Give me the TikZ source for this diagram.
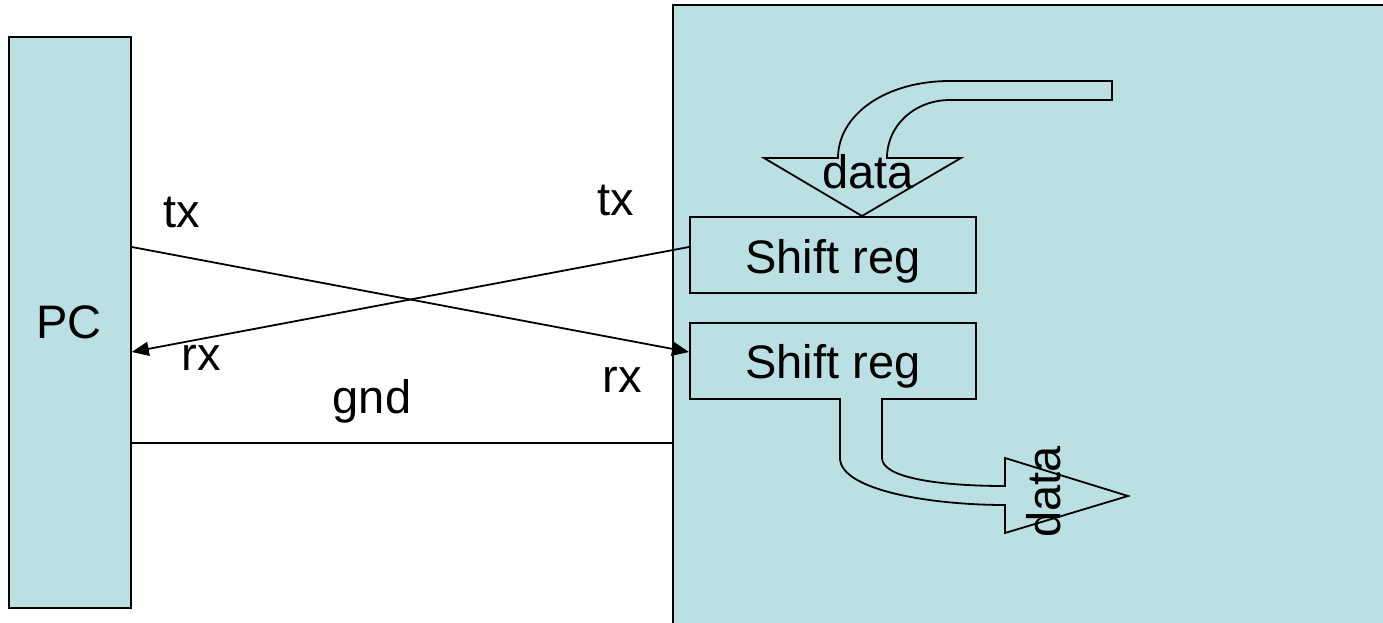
\documentclass[tikz,border=0pt]{standalone}
\usepackage{fontspec}
\setmainfont{Liberation Sans}
\usetikzlibrary{arrows.meta}
\definecolor{panel}{HTML}{BBE0E3}
\tikzset{
  lbl/.style={inner sep=0pt, anchor=base, font=\fontsize{47}{50}\selectfont},
  boxstyle/.style={draw=black, line width=1.8pt, fill=panel},
  wire/.style={draw=black, line width=1.8pt},
  arr/.style={wire, -{Triangle[length=17pt,width=14pt]}},
  blockarrow/.style={draw=black, line width=1.8pt, fill=panel, line join=miter}
}
\begin{document}
\begin{tikzpicture}[x=1pt,y=-1pt]
\useasboundingbox (0,0) rectangle (1383,623);
\clip (0,0) rectangle (1383,623);
\fill[white] (0,0) rectangle (1383,623);
% boxes
\node[boxstyle, minimum width=122pt, minimum height=571pt, inner sep=0pt, anchor=north west] (pc) at (8,36) {};
\node[boxstyle, minimum width=730pt, minimum height=640pt, inner sep=0pt, anchor=north west] (board) at (672,4) {};
\node[boxstyle, minimum width=286pt, minimum height=76pt, inner sep=0pt, anchor=north west] (sr1) at (689,216) {};
\node[boxstyle, minimum width=286pt, minimum height=76pt, inner sep=0pt, anchor=north west] (sr2) at (689,322) {};
% texts
\node[lbl] (pclbl) at (69,338) {PC};
\node[lbl] (sr1lbl) at (833,273) {Shift reg};
\node[lbl] (sr2lbl) at (833,378) {Shift reg};
\node[lbl] (txl) at (182,227) {tx};
\node[lbl] (rxl) at (201,370) {rx};
\node[lbl] (txr) at (616,215) {tx};
\node[lbl] (rxr) at (622,392) {rx};
\node[lbl] (gndl) at (372,413) {gnd};
% connector end points
\coordinate (pctx) at (pc.east |- 0,247);
\coordinate (pcrx) at (pc.east |- 0,352);
\coordinate (pcgnd) at (pc.east |- 0,443);
\coordinate (sr1tx) at (sr1.west |- 0,247);
\coordinate (sr2rx) at (sr2.west |- 0,352);
\coordinate (boardgnd) at (board.west |- 0,443);
\draw[arr] (pctx) -- (sr2rx);
\draw[arr] (sr1tx) -- (pcrx);
\draw[wire] (pcgnd) -- (boardgnd);
% input block arrow
\draw[blockarrow] (1112,81) -- (950,81) .. controls (885,81) and (838,115) .. (838,158)
  -- (764,158) -- (862,216) -- (961,158) -- (887,158)
  .. controls (887,125) and (915,100) .. (950,100) -- (1112,100) -- cycle;
\node[lbl] (din) at (868,188) {data};
% output block arrow
\draw[blockarrow] (840,398) -- (840,458) .. controls (840,490) and (930,505) .. (1005,505)
  -- (1005,533) -- (1128,496) -- (1005,458) -- (1005,486)
  .. controls (940,486) and (882,478) .. (882,458) -- (882,398);
\node[lbl, rotate=90] (dout) at (1060,492) {data};
\end{tikzpicture}
\end{document}
